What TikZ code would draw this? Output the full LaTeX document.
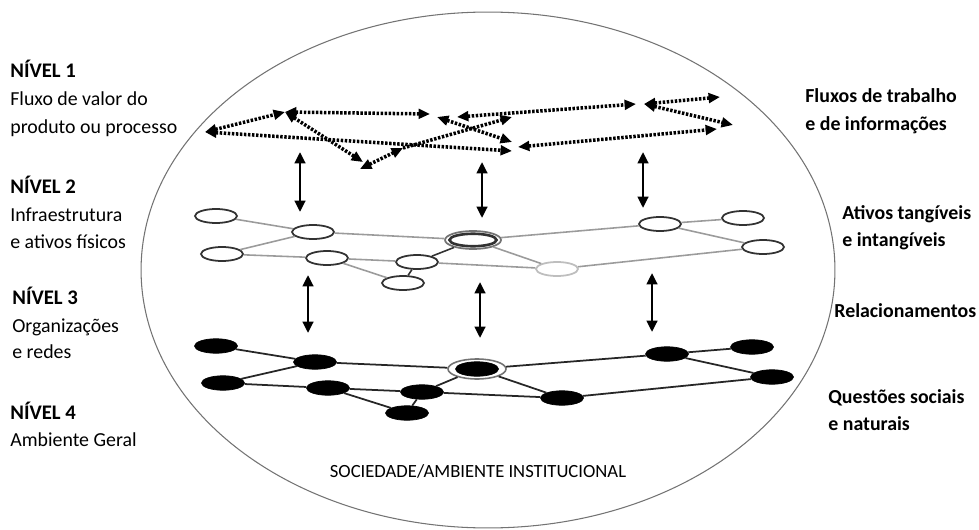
\documentclass[tikz,border=0pt]{standalone}
\usepackage{fontspec}
\setmainfont{Carlito}
\usepackage{xcolor}
\usepackage{tikz}
\usetikzlibrary{shapes.geometric, arrows.meta}
\definecolor{ringcolor}{RGB}{115,115,115}
\definecolor{edgecolor}{RGB}{155,155,155}
\definecolor{nodeline}{RGB}{50,50,50}
\definecolor{palenode}{RGB}{190,190,190}

\begin{document}
\begin{tikzpicture}[x=0.02cm, y=-0.02cm,
    >={Triangle[length=6.5pt, width=5.5pt]},
    flow/.style={line width=2pt, dash pattern=on 1.4pt off 0.9pt},
    link/.style={line width=1.6pt, {Triangle[length=6.5pt, width=6pt]}-{Triangle[length=6.5pt, width=6pt]}},
    infra/.style={ellipse, draw=nodeline, line width=1pt, fill=white, minimum width=0.84cm, minimum height=0.28cm, inner sep=0pt},
    org/.style={ellipse, draw=black, fill=black, minimum width=0.86cm, minimum height=0.29cm, inner sep=0pt},
    infraedge/.style={draw=edgecolor, line width=0.9pt},
    orgedge/.style={draw=black!85, line width=1pt},
    lbl/.style={anchor=base west, inner sep=0pt, font=\fontsize{11.3}{13}\selectfont},
    lblb/.style={lbl, font=\fontsize{11.3}{13}\selectfont\bfseries}]

        \useasboundingbox (0,0) rectangle (979,530);

        % Society / institutional environment
        \node[ellipse, draw=ringcolor, line width=0.6pt, minimum width=13.88cm, minimum height=10.32cm, inner sep=0pt] (society) at (488,270) {};
        \node[anchor=base, inner sep=0pt, font=\fontsize{10.6}{13}\selectfont] (societylabel) at (478,477) {SOCIEDADE/AMBIENTE INSTITUCIONAL};

        % Level 1 flow points
        \coordinate (fa) at (205,132);
        \coordinate (fb) at (285,112);
        \coordinate (fc) at (430,114);
        \coordinate (fc2) at (437,117);
        \coordinate (fd) at (457,117);
        \coordinate (fe) at (636,104);
        \coordinate (fe2) at (644,104);
        \coordinate (ff) at (720,97);
        \coordinate (fg) at (733,125);
        \coordinate (fh) at (717,129);
        \coordinate (fi) at (518,147);
        \coordinate (fj) at (512,142);
        \coordinate (fk) at (512,151);
        \coordinate (fl) at (360,169);
        \coordinate (fm) at (363,162);
        \coordinate (fn) at (403,148);
        \coordinate (fp) at (512,117);

        % Level 1 flows
        \draw[flow, <->] (fa) -- (fb);
        \draw[flow, <->] (fb) -- (fc);
        \draw[flow, <->] (fa) -- (fk);
        \draw[flow, <->] (fb) -- (fm);
        \draw[flow, <->] (fc2) -- (fj);
        \draw[flow, <->] (fl) -- (fn);
        \draw[flow, ->] (fn) -- (fp);
        \draw[flow, <->] (fd) -- (fe);
        \draw[flow, <->] (fe2) -- (ff);
        \draw[flow, <->] (fe2) -- (fg);
        \draw[flow, <->] (fi) -- (fh);

        % Level 2 assets
        \node[ellipse, draw=ringcolor, line width=1pt, fill=white, minimum width=1.12cm, minimum height=0.36cm, inner sep=0pt] (hubtwo) at (473,240) {};
        \node[ellipse, draw=nodeline, line width=1.5pt, minimum width=0.94cm, minimum height=0.25cm, inner sep=0pt] (hubtwoin) at (473,240) {};
        \node[infra] (a1) at (216,216) {};
        \node[infra] (a2) at (313,232) {};
        \node[infra] (a3) at (222,254) {};
        \node[infra] (a4) at (327,258) {};
        \node[infra] (a5) at (417,262) {};
        \node[infra] (a6) at (403,283) {};
        \node[infra, draw=palenode] (b1) at (557,269) {};
        \node[infra] (b2) at (660,224) {};
        \node[infra] (b3) at (743,218) {};
        \node[infra] (b4) at (763,247) {};

        \draw[infraedge] (a1) -- (a2);
        \draw[infraedge] (a2) -- (a3);
        \draw[infraedge] (a3) -- (a4);
        \draw[infraedge] (a2) -- (hubtwo);
        \draw[infraedge] (a4) -- (a5);
        \draw[infraedge] (a4) -- (a6);
        \draw[infraedge, draw=nodeline] (a5) -- (a6);
        \draw[infraedge, draw=nodeline] (a5) -- (hubtwo);
        \draw[infraedge] (a5) -- (b1);
        \draw[infraedge] (hubtwo) -- (b1);
        \draw[infraedge] (hubtwo) -- (b2);
        \draw[infraedge] (b2) -- (b3);
        \draw[infraedge] (b2) -- (b4);
        \draw[infraedge] (b1) -- (b4);

        % Level 3 organisations
        \node[ellipse, draw=ringcolor, line width=0.9pt, fill=white, minimum width=1.16cm, minimum height=0.4cm, inner sep=0pt] (hubthree) at (477,369) {};
        \node[org] (hubthreein) at (477,369) {};
        \node[org] (c1) at (216,346) {};
        \node[org] (c2) at (315,362) {};
        \node[org] (c3) at (223,383) {};
        \node[org] (c4) at (328,388) {};
        \node[org] (c5) at (422,392) {};
        \node[org] (c6) at (407,413) {};
        \node[org] (d1) at (562,398) {};
        \node[org] (d2) at (667,354) {};
        \node[org] (d3) at (752,347) {};
        \node[org] (d4) at (772,377) {};

        \draw[orgedge] (c1) -- (c2);
        \draw[orgedge] (c2) -- (c3);
        \draw[orgedge] (c3) -- (c4);
        \draw[orgedge] (c2) -- (hubthree);
        \draw[orgedge] (c4) -- (c5);
        \draw[orgedge] (c4) -- (c6);
        \draw[orgedge] (c5) -- (c6);
        \draw[orgedge] (c5) -- (hubthree);
        \draw[orgedge] (c5) -- (d1);
        \draw[orgedge] (hubthree) -- (d1);
        \draw[orgedge] (hubthree) -- (d2);
        \draw[orgedge] (d2) -- (d3);
        \draw[orgedge] (d2) -- (d4);
        \draw[orgedge] (d1) -- (d4);

        % Links between levels
        \coordinate (ua1) at (300,152);
        \coordinate (ub1) at (300,212);
        \coordinate (ua2) at (482,162);
        \coordinate (ub2) at (482,218);
        \coordinate (ua3) at (643,152);
        \coordinate (ub3) at (643,208);
        \coordinate (va1) at (308,275);
        \coordinate (vb1) at (308,333);
        \coordinate (va2) at (480,282);
        \coordinate (vb2) at (480,338);
        \coordinate (va3) at (652,273);
        \coordinate (vb3) at (652,332);
        \draw[link] (ua1) -- (ub1);
        \draw[link] (ua2) -- (ub2);
        \draw[link] (ua3) -- (ub3);
        \draw[link] (va1) -- (vb1);
        \draw[link] (va2) -- (vb2);
        \draw[link] (va3) -- (vb3);

        % Level labels, left
        \node[lblb, font=\fontsize{11.8}{13}\selectfont\bfseries] (lvlone) at (10,78) {NÍVEL 1};
        \node[lbl] (lvlonea) at (10,106) {Fluxo de valor do};
        \node[lbl] (lvloneb) at (10,134) {produto ou processo};
        \node[lblb, font=\fontsize{11.8}{13}\selectfont\bfseries] (lvltwo) at (10,194) {NÍVEL 2};
        \node[lbl] (lvltwoa) at (10,221) {Infraestrutura};
        \node[lbl] (lvltwob) at (10,248) {e ativos físicos};
        \node[lblb, font=\fontsize{11.8}{13}\selectfont\bfseries] (lvlthree) at (12,304) {NÍVEL 3};
        \node[lbl] (lvlthreea) at (12,332) {Organizações};
        \node[lbl] (lvlthreeb) at (12,358) {e redes};
        \node[lblb, font=\fontsize{11.8}{13}\selectfont\bfseries] (lvlfour) at (10,419) {NÍVEL 4};
        \node[lbl] (lvlfoura) at (10,446) {Ambiente Geral};

        % Level labels, right
        \node[lblb] (flowsa) at (805,103) {Fluxos de trabalho};
        \node[lblb] (flowsb) at (805,131) {e de informações};
        \node[lblb] (assetsa) at (842,219) {Ativos tangíveis};
        \node[lblb] (assetsb) at (842,246) {e intangíveis};
        \node[lblb] (relations) at (834,317) {Relacionamentos};
        \node[lblb] (issuesa) at (828,403) {Questões sociais};
        \node[lblb] (issuesb) at (828,430) {e naturais};

    \end{tikzpicture}
\end{document}
